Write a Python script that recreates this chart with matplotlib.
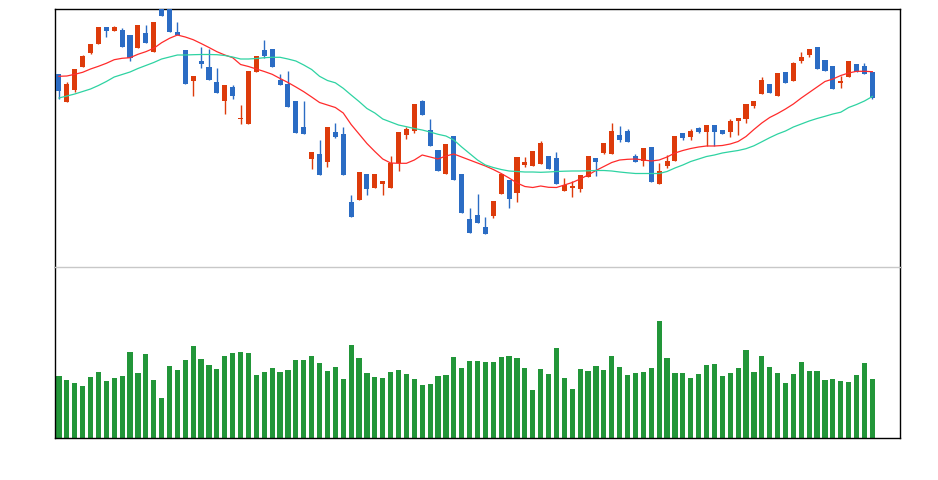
import matplotlib
matplotlib.use("Agg")
import matplotlib.pyplot as plt
import numpy as np

# ---- data (price units, arbitrary scale) ----
opens = [226, 198.3, 210, 233.3, 247.3, 256.3, 273, 269.3, 270, 265,
         252.3, 267, 248.3, 297, 298, 267.7, 250, 219.3, 239, 233,
         218, 199.5, 213, 180.7, 175.7, 228.3, 250, 251, 220, 216,
         199, 173, 141, 146, 138.3, 168, 166, 98, 100, 126,
         112.3, 116.3, 112.3, 137, 165.3, 169.3, 199, 170, 150, 126.3,
         164, 126, 81, 85, 73, 84.3, 106, 120, 107.3, 135.3,
         134.3, 136.3, 144, 142, 109.3, 112.3, 111.3, 123.3, 142, 147,
         146.3, 165, 169, 144, 139, 153, 116.3, 134, 139.3, 167,
         163.3, 172, 168.3, 175, 170, 168.3, 179.3, 181.3, 194, 206.3,
         216, 204.3, 228, 219.3, 239.3, 245.3, 253, 240, 234, 217.3,
         223.3, 236, 234, 228]
closes = [209.3, 216, 231, 244, 256, 273, 269.3, 273, 253.3, 242.3,
          275, 257.3, 278, 284.3, 268.3, 265, 216.3, 224, 235.7, 220.5,
          207.5, 215, 204.3, 182.3, 229, 244, 244.3, 233.3, 215.5, 193.3,
          167.3, 166.3, 148, 125.3, 173, 163, 125.3, 83.3, 128, 111.3,
          126, 119, 137, 168, 171, 196, 185.3, 154.3, 129.3, 156,
          120.3, 87.3, 67.3, 77.3, 66.3, 99, 126, 101, 143, 138,
          149, 157, 131.3, 116.3, 115, 114, 125, 144, 138, 157,
          169, 160, 158.3, 138.3, 152, 118, 129, 139, 164, 162.3,
          169, 168.3, 175, 168.3, 166.3, 179, 182, 196, 199, 220,
          207.3, 227, 217.3, 237, 243, 251, 231.3, 229.3, 211.3, 219.3,
          239, 227.7, 226.3, 202.3]
highs = [226, 217.7, 231, 245, 256, 273, 273, 274, 272.3, 265,
         275, 275, 278, 303, 304, 278, 250, 224, 252.7, 251,
         231.7, 215, 215, 194.7, 229, 244, 259.7, 251, 225.7, 229,
         199, 198.7, 148, 160, 173, 176.7, 173.3, 105, 128, 126,
         126, 119, 144, 168, 173.3, 196, 200, 181, 150, 156,
         164, 126, 91.7, 105.7, 82.7, 99, 126, 120, 143, 143,
         149, 158.7, 144, 148, 121.7, 119, 125, 144, 142, 157,
         177, 174, 171, 146, 152, 153, 136.7, 145, 164, 167,
         171, 173, 175, 175, 170, 181, 182, 196, 199, 222.7,
         216, 227, 228, 238.3, 248, 251, 253, 240, 234, 224,
         239, 236, 237.3, 228]
lows = [200.7, 198.3, 208.3, 233.3, 245.7, 256.3, 262.7, 269.3, 253.3, 239,
        252.3, 257.3, 248.3, 284.3, 268.3, 265, 216.3, 204, 231.7, 220.5,
        207.5, 185.7, 200.7, 175.7, 175.7, 228.3, 241.7, 233.3, 215.5, 193.3,
        167.3, 166.3, 130.7, 125.3, 132.7, 162.3, 125.3, 83.3, 100, 105,
        112.3, 104.7, 112.3, 129.3, 160.7, 166.7, 185.3, 154.3, 129.3, 126.3,
        120.3, 87.3, 67.3, 77.3, 66.3, 81.7, 106, 91.7, 97.7, 133.3,
        134.3, 136.3, 131.3, 116.3, 109.3, 103.3, 108.3, 123.3, 124.3, 146,
        146.3, 158.3, 158.3, 138.3, 134.3, 118, 116.3, 132, 139.3, 160,
        160.3, 167.3, 153.7, 154, 165.7, 163.3, 164.7, 176.7, 192.3, 206.3,
        207.3, 204.3, 217.3, 219.3, 237.3, 242.7, 231.3, 229.3, 211.3, 212.3,
        223.3, 227.7, 226.3, 201.3]
volumes = [62, 58, 55, 52, 61, 66, 57, 60, 62, 86,
           65, 84, 58, 40, 72, 68, 78, 92, 79, 73,
           69, 82, 85, 86, 85, 63, 66, 70, 66, 68,
           78, 78, 82, 75, 67, 71, 59, 93, 80, 65,
           61, 60, 66, 68, 64, 59, 53, 54, 62, 63,
           81, 70, 77, 77, 76, 76, 81, 82, 80, 70,
           48, 69, 64, 90, 60, 49, 69, 67, 72, 68,
           82, 71, 63, 65, 66, 70, 117, 80, 65, 65,
           60, 64, 73, 74, 62, 65, 70, 88, 66, 82,
           71, 65, 55, 64, 76, 67, 67, 58, 59, 57,
           56, 63, 75, 59]
ma_fast = [223.7, 224, 225.7, 227.7, 231, 233.7, 236.7, 240.3, 241.7, 242.3,
           245.7, 248.3, 251.7, 257.3, 261.7, 265, 263, 260.3, 256.5, 252.5,
           248.3, 245, 242.3, 235.5, 233.5, 231, 228.5, 225.7, 221.5, 217.5,
           213, 208.3, 203, 197.5, 195, 192.5, 187, 175.5, 166, 156.5,
           148.5, 141, 137, 136.7, 136.7, 140, 145, 143, 141, 144,
           146, 143, 140, 137, 134, 130.5, 126.5, 122, 117, 113.5,
           112.5, 114, 112.7, 112.5, 115, 117.5, 121, 125, 129.5, 133.5,
           137.5, 140, 140.7, 141, 140, 139, 140, 143, 147, 149.5,
           151.5, 153, 154, 154, 154.5, 156, 158.5, 163.5, 170.5, 177,
           182.5, 186.5, 191, 196, 202, 207.5, 213, 218.5, 221, 224.5,
           227, 228.7, 228.7, 228.3]
ma_slow = [202, 204, 206, 208.5, 211, 214.5, 218.5, 223, 225.5, 228,
           231.5, 234.5, 237.5, 241, 243, 245, 245, 245.3, 245.5, 245.5,
           245.3, 244.5, 243, 241, 241, 241.5, 242.3, 242.7, 242.7, 241,
           239, 235, 230.5, 223.7, 219.5, 217.2, 211.7, 205, 198.5, 191.5,
           187, 181, 178, 175, 173.3, 171.5, 170, 168, 165.7, 164,
           160, 153, 146.5, 140, 135, 132.5, 130.5, 129, 128.5, 128,
           128, 127.7, 128, 128.5, 128.8, 129, 129, 129.2, 129.5, 129.5,
           129, 128, 127.2, 126.5, 126.5, 126.5, 126.5, 128.5, 132, 135,
           138.5, 141, 143.5, 145, 147, 148.3, 149.5, 151.3, 154.2, 158.2,
           162.3, 166, 169, 173, 176, 179, 181.5, 183.7, 186, 187.8,
           192.5, 195.5, 199, 203.5]

UP = "#dd3b0b"
DOWN = "#2b6cc4"
VOL = "#229639"
MA_FAST_C = "#ff2b2b"
MA_SLOW_C = "#2ed3a2"

o = np.array(opens); c = np.array(closes)
h = np.array(highs); l = np.array(lows)
x = np.arange(len(o))
colors = np.where(c >= o, UP, DOWN)

fig = plt.figure(figsize=(9.38, 4.80), dpi=100)
W, H = 938.0, 480.0
axv = fig.add_axes([55 / W, (H - 438) / H, 845 / W, 171 / H])
ax = fig.add_axes([55 / W, (H - 267) / H, 845 / W, 258 / H], sharex=axv)

ax.vlines(x, l, h, colors=colors, linewidth=1.0, zorder=2)
body_bottom = np.minimum(o, c)
body_h = np.maximum(np.abs(c - o), 0.8)
ax.bar(x, body_h, bottom=body_bottom, width=0.64, color=colors, linewidth=0, zorder=3)
ax.plot(x, ma_fast, color=MA_FAST_C, linewidth=0.9, zorder=4)
ax.plot(x, ma_slow, color=MA_SLOW_C, linewidth=0.9, zorder=4)

ax.set_xlim(-0.5, 106.5)
ax.set_ylim(33, 291)
axv.bar(x, volumes, width=0.66, color=VOL, linewidth=0)
axv.set_ylim(0, 171)

for a in (ax, axv):
    a.set_xticks([]); a.set_yticks([])
    for s in a.spines.values():
        s.set_color("black"); s.set_linewidth(1.0)
ax.patch.set_visible(False)
ax.spines["bottom"].set_color("#c8c8c8")
ax.spines["bottom"].set_zorder(10)
axv.spines["top"].set_visible(False)

fig.savefig("out.png", dpi=100)
